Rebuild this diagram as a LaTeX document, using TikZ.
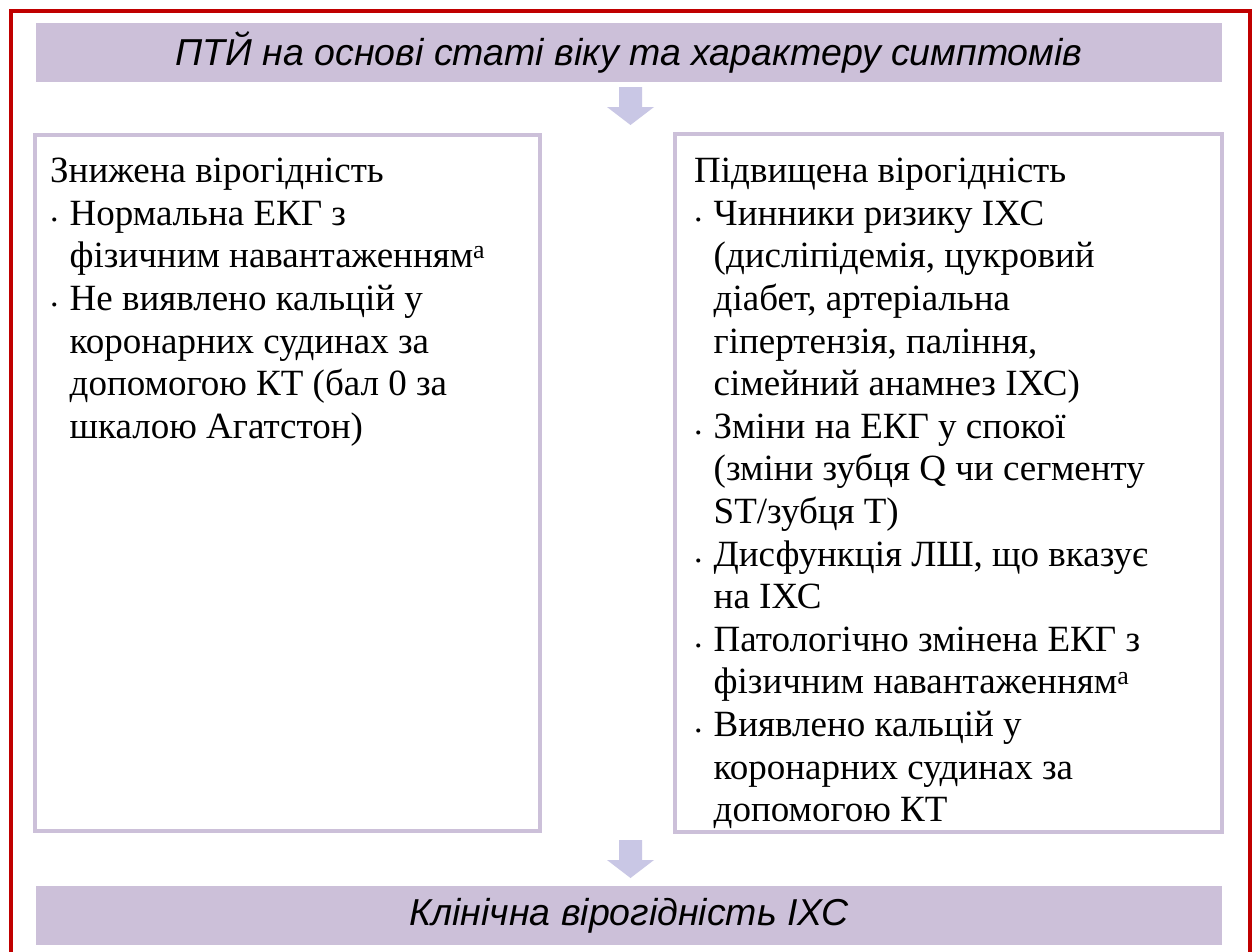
\documentclass[tikz,border=0pt]{standalone}
\usepackage{fontspec}
\setmainfont{Liberation Serif}
\newfontfamily\arialf{Liberation Sans}
\definecolor{lav}{RGB}{204,192,217}
\definecolor{arrcol}{RGB}{201,199,229}
\definecolor{framered}{RGB}{192,0,0}
\newcommand\bul{\makebox[19.5pt][l]{\raisebox{4pt}{\fontsize{34}{34}\selectfont .}}}
\newcommand\ind{\hspace*{19.5pt}}
\tikzset{
  banner/.style={fill=lav, inner sep=0pt, minimum width=1186pt, minimum height=59pt,
    font=\arialf\itshape\fontsize{37.5}{42}\selectfont},
  infobox/.style={draw=lav, line width=4pt, fill=white, inner sep=0pt},
  bodytext/.style={anchor=north west, inner sep=0pt, align=left,
    font=\fontsize{37}{42.6}\selectfont},
  downarr/.pic={\fill[arrcol] (-11.5,0) -- (11.5,0) -- (11.5,20) -- (23.5,20) -- (0,38) -- (-23.5,20) -- (-11.5,20) -- cycle;}
}
\begin{document}
\begin{tikzpicture}[x=1pt,y=-1pt]
\useasboundingbox (0,0) rectangle (1256,951);
\fill[white] (0,0) rectangle (1256,951);
\draw[framered, line width=4pt] (11,965) -- (11,11) -- (1250,11) -- (1250,965);

\node[banner] (top) at (629,52.3) {ПТЙ на основі статі віку та характеру симптомів};
\node[banner] (bottom) at (629,915.5) {Клінічна вірогідність ІХС};

\node[infobox, minimum width=505pt, minimum height=696pt] (lowbox) at (287.5,483) {};
\node[infobox, minimum width=547pt, minimum height=698pt] (highbox) at (948.5,483) {};

\coordinate (a1) at (630.5,87);
\coordinate (a2) at (630.5,840);
\pic at (a1) {downarr};
\pic at (a2) {downarr};

\node[bodytext] (lowtext) at (50,152.7) {\strut Знижена вірогідність\\
\bul Нормальна ЕКГ з\\
\ind фізичним навантаженням\textsuperscript{а}\\
\bul Не виявлено кальцій у\\
\ind коронарних судинах за\\
\ind допомогою КТ (бал 0 за\\
\ind шкалою Агатстон)};

\node[bodytext] (hightext) at (694,152.7) {\strut Підвищена вірогідність\\
\bul Чинники ризику ІХС\\
\ind (дисліпідемія, цукровий\\
\ind діабет, артеріальна\\
\ind гіпертензія, паління,\\
\ind сімейний анамнез ІХС)\\
\bul Зміни на ЕКГ у спокої\\
\ind (зміни зубця Q чи сегменту\\
\ind ST/зубця T)\\
\bul Дисфункція ЛШ, що вказує\\
\ind на ІХС\\
\bul Патологічно змінена ЕКГ з\\
\ind фізичним навантаженням\textsuperscript{а}\\
\bul Виявлено кальцій у\\
\ind коронарних судинах за\\
\ind допомогою КТ};
\end{tikzpicture}
\end{document}
